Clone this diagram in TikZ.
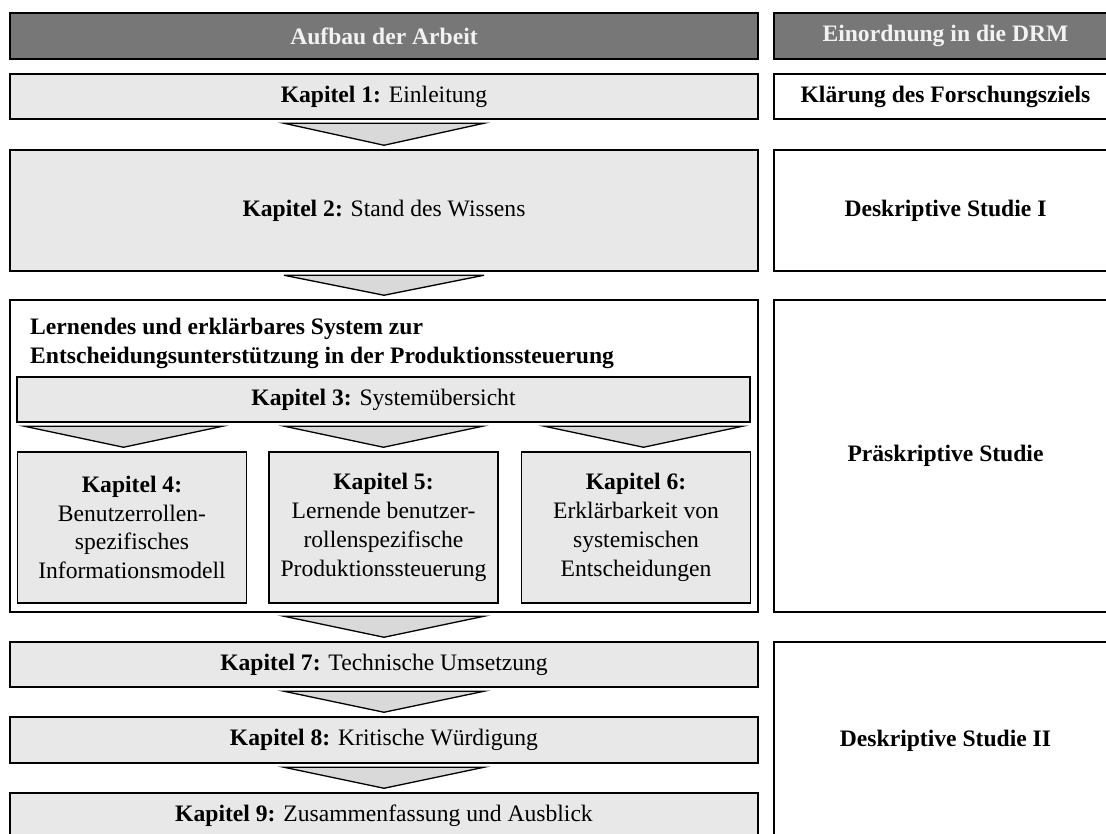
\documentclass[tikz,border=0pt]{standalone}
\usepackage{fontspec}
\setmainfont{Liberation Serif}
\usetikzlibrary{calc}
\definecolor{headgray}{HTML}{777777}
\definecolor{boxgray}{HTML}{E8E8E8}
\definecolor{chevgray}{HTML}{D9D9D9}
\definecolor{headtext}{HTML}{F2F2F2}

\tikzset{
  base/.style={draw=black, line width=1.5pt, rectangle, inner sep=0pt, align=center,
    font=\fontsize{23.6}{28.8}\selectfont},
  headbox/.style={base, fill=headgray, text=headtext, font=\fontsize{23.6}{28.8}\selectfont\bfseries},
  chapbox/.style={base, fill=boxgray},
  drmbox/.style={base, fill=white, font=\fontsize{23.6}{28.8}\selectfont\bfseries},
  framebox/.style={base, fill=white},
  chev/.style={draw=black, line width=1.3pt, fill=chevgray, line join=miter},
}

% downward chevron: top edge centred on #1, tip just above node #2
\newcommand{\drawchev}[3]{%
  \draw[chev] ($(#1)+(-#3,3.5)$) -- ($(#1)+(#3,3.5)$) -- ($(#1 |- #2.north)+(0,-4)$) -- cycle;}

\begin{document}
\begin{tikzpicture}[x=1pt, y=-1pt]
\useasboundingbox (0,0) rectangle (1106,833);
\clip (0,0) rectangle (1106,833);
\fill[white] (0,0) rectangle (1106,833);

% column headers
\node[headbox, minimum width=748pt, minimum height=46pt] (hl) at (384,36) {Aufbau der Arbeit};
\node[headbox, minimum width=343pt, minimum height=46pt] (hr) at (945.5,36) {Einordnung in die DRM};

% chapter 1 and 2
\node[chapbox, minimum width=748pt, minimum height=45pt] (k1) at (384,96.5) {\textbf{Kapitel 1:} Einleitung};
\node[drmbox, minimum width=343pt, minimum height=45pt] (r1) at (945.5,96.5) {Klärung des Forschungsziels};

\node[chapbox, minimum width=748pt, minimum height=121pt] (k2) at (384,210.5) {\textbf{Kapitel 2:} Stand des Wissens};
\node[drmbox, minimum width=343pt, minimum height=121pt] (r2) at (945.5,210.5) {Deskriptive Studie I};

% system block with chapters 3 to 6
\node[framebox, minimum width=748pt, minimum height=312pt] (sys) at (384,456) {};
\node[drmbox, minimum width=343pt, minimum height=312pt] (r3) at (945.5,456) {Präskriptive Studie};
\node[anchor=north west, inner sep=0pt, align=left,
  font=\fontsize{23.6}{28.5}\selectfont\bfseries] (systitle) at (30,318)
  {Lernendes und erklärbares System zur\\Entscheidungsunterstützung in der Produktionssteuerung};

\node[chapbox, minimum width=733pt, minimum height=45pt] (k3) at (383.5,399.5) {\textbf{Kapitel 3:} Systemübersicht};

\node[chapbox, minimum width=229pt, minimum height=151pt] (k4) at (132,527.5)
  {\textbf{Kapitel 4:}\\Benutzerrollen-\\spezifisches\\Informationsmodell};
\node[chapbox, minimum width=229pt, minimum height=151pt] (k5) at (383.5,527.5)
  {\textbf{Kapitel 5:}\\Lernende benutzer-\\rollenspezifische\\Produktionssteuerung};
\node[chapbox, minimum width=229pt, minimum height=151pt] (k6) at (636,527.5)
  {\textbf{Kapitel 6:}\\Erklärbarkeit von\\systemischen\\Entscheidungen};

% chapters 7 to 9
\node[chapbox, minimum width=748pt, minimum height=45pt] (k7) at (384,664.5) {\textbf{Kapitel 7:} Technische Umsetzung};
\node[chapbox, minimum width=748pt, minimum height=46pt] (k8) at (384,740) {\textbf{Kapitel 8:} Kritische Würdigung};
\node[chapbox, minimum width=748pt, minimum height=46pt] (k9) at (384,816) {\textbf{Kapitel 9:} Zusammenfassung und Ausblick};
\node[drmbox, minimum width=343pt, minimum height=197pt] (r4) at (945.5,740.5) {Deskriptive Studie II};

% flow chevrons
\drawchev{k1.south}{k2}{100}
\drawchev{k2.south}{sys}{100}
\coordinate (s4) at ($(k3.south)+(-260,0)$);
\coordinate (s5) at (k3.south);
\coordinate (s6) at ($(k3.south)+(260,0)$);
\drawchev{s4}{k4}{99}
\drawchev{s5}{k5}{99}
\drawchev{s6}{k6}{99}
\drawchev{sys.south}{k7}{100}
\drawchev{k7.south}{k8}{100}
\drawchev{k8.south}{k9}{100}
\end{tikzpicture}
\end{document}
